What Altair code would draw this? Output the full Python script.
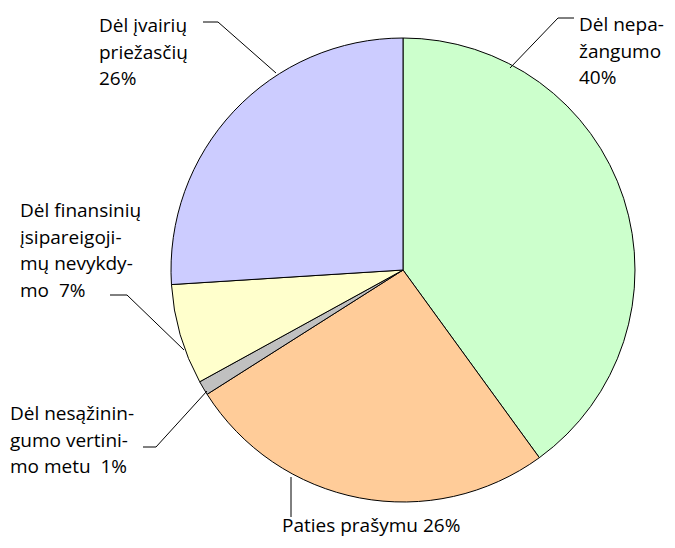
import altair as alt
import pandas as pd

# ---- data ----
categories = ["Dėl nepažangumo", "Paties prašymu", "Dėl nesąžiningumo vertinimo metu",
              "Dėl finansinių įsipareigojimų nevykdymo", "Dėl įvairių priežasčių"]
values = [40, 26, 1, 7, 26]
colors = ["#CCFFCC", "#FFCC99", "#C0C0C0", "#FFFFCC", "#CCCCFF"]
label_lines = [
    ["Dėl nepa-", "žangumo", "40%"],
    ["Paties prašymu 26%"],
    ["Dėl nesąžinin-", "gumo vertini-", "mo metu\u00a0 1%"],
    ["Dėl finansinių", "įsipareigoji-", "mų nevykdy-", "mo\u00a0 7%"],
    ["Dėl įvairių", "priežasčių", "26%"],
]

# ---- layout (page pixels) ----
OFF = 8
W, H = 675 - 2 * OFF, 548 - 2 * OFF
CX, CY, R = 403 - OFF, 270 - OFF, 232
# (left x, baseline of first line)
label_pos = [(579, 31), (282, 532), (10, 420), (20, 217), (99, 32)]
leaders = [
    [(510, 68), (558, 18), (574, 18)],
    [(291, 477), (291, 517)],
    [(207, 391), (156, 447), (143, 447)],
    [(184, 350), (127, 295), (110, 295)],
    [(276, 73), (218, 22), (203, 22)],
]

pie_df = pd.DataFrame({"category": categories, "value": values, "idx": range(len(values))})

pie = alt.Chart(pie_df).mark_arc(radius=R, stroke="black", strokeWidth=1).encode(
    theta=alt.Theta("value:Q", stack=True),
    color=alt.Color("category:N", scale=alt.Scale(domain=categories, range=colors), legend=None),
    order=alt.Order("idx:Q"),
    x=alt.value(CX),
    y=alt.value(CY),
)

lead_rows = []
for i, pts in enumerate(leaders):
    for j, (px, py) in enumerate(pts):
        lead_rows.append({"id": i, "seq": j, "x": px - OFF, "y": py - OFF})
lead_df = pd.DataFrame(lead_rows)

lines = alt.Chart(lead_df).mark_line(color="black", strokeWidth=1).encode(
    x=alt.X("x:Q", scale=None, axis=None),
    y=alt.Y("y:Q", scale=None, axis=None),
    detail="id:N",
    order="seq:Q",
)

text_vals = [
    {"lines": label_lines[i], "x": label_pos[i][0] - OFF, "y": label_pos[i][1] - OFF}
    for i in range(len(label_lines))
]
texts = alt.Chart(alt.Data(values=text_vals)).mark_text(
    align="left", baseline="alphabetic", fontSize=19, lineHeight=26.5, font="Open Sans", color="black"
).encode(
    x=alt.X("x:Q", scale=None, axis=None),
    y=alt.Y("y:Q", scale=None, axis=None),
    text="lines:N",
)

chart = alt.layer(pie, lines, texts).properties(
    width=W, height=H, autosize=alt.AutoSizeParams(type="none"), padding=0
).configure_view(stroke=None)

chart.save("out.html", embed_options={"renderer": "svg", "actions": False})
